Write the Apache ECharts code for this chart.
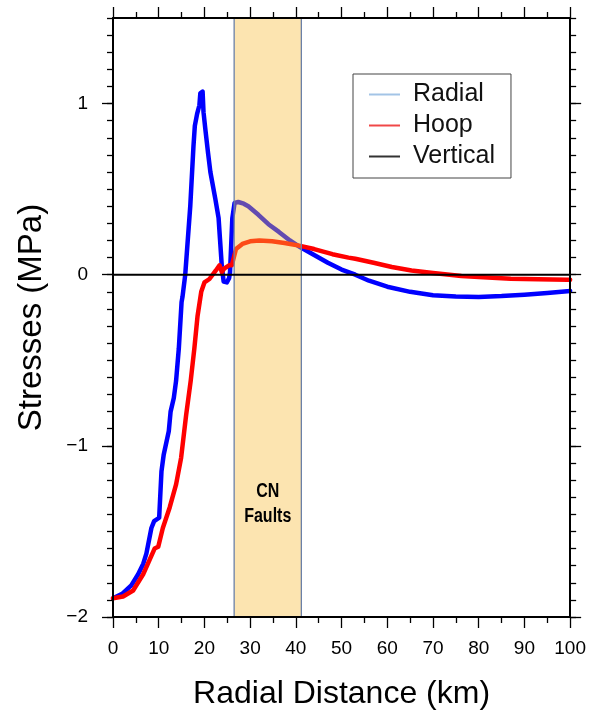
<!DOCTYPE html>
<html>
<head>
<meta charset="utf-8">
<script src="https://cdn.jsdelivr.net/npm/echarts@6/dist/echarts.min.js"></script>
<style>
html,body{margin:0;padding:0;background:#fff;}
#chart{width:589px;height:715px;}
</style>
</head>
<body>
<div id="chart"></div>
<script>
// ---- data ----
const radialX = [0,2,4,5.5,6.6,7.3,8.4,9.0,10.1,10.6,11.1,12.2,12.6,13.3,13.8,14.4,15.0,15.2,15.8,16.9,17.6,17.9,18.4,18.9,19.1,19.6,19.8,20.2,20.8,21.3,22.4,23.1,23.4,23.8,24.2,24.9,25.4,25.6,26.1,26.6,27.4,28.6,29.6,31.8,34,36.3,38.7,41.0,44,47,50,53,56,60,65,70,75,80,85,90,95,100];
const radialY = [-1.89,-1.865,-1.815,-1.75,-1.69,-1.63,-1.48,-1.44,-1.42,-1.15,-1.05,-0.915,-0.80,-0.72,-0.62,-0.43,-0.16,-0.13,0,0.40,0.75,0.87,0.94,0.99,1.06,1.07,0.95,0.85,0.71,0.60,0.44,0.33,0.21,0.05,-0.04,-0.045,-0.02,0.015,0.33,0.42,0.425,0.415,0.40,0.35,0.295,0.25,0.20,0.16,0.115,0.07,0.03,0,-0.035,-0.07,-0.10,-0.12,-0.128,-0.13,-0.125,-0.117,-0.107,-0.095];
const hoopX = [0,2.2,4.4,6.6,9.1,9.9,10.9,12.4,13.8,14.9,16.0,17.0,17.8,18.5,19.3,20.0,21.1,22.5,23.3,23.8,24.3,25.4,26.0,26.9,28.3,30,32.0,34.8,37.5,40.7,44,48,51.5,53,57,61,65.3,70,76.2,81,87,93,99.4,100];
const hoopY = [-1.89,-1.88,-1.845,-1.75,-1.60,-1.59,-1.48,-1.36,-1.225,-1.07,-0.82,-0.62,-0.43,-0.24,-0.10,-0.045,-0.025,0.025,0.055,0.015,0.035,0.055,0.055,0.15,0.18,0.195,0.20,0.195,0.185,0.17,0.15,0.12,0.10,0.093,0.07,0.045,0.025,0.01,-0.008,-0.015,-0.023,-0.027,-0.03,-0.03];
const verticalX = [0,100];
const verticalY = [0,0];
const faultZone = [26.5, 41.2];
const faultLabel = 'CN\nFaults';
const seriesNames = ['Radial','Hoop','Vertical'];
const yMajorTicks = [-2,-1,0,1];
const xTickStep = 10;
const yMinorStep = 0.1;

const zip = (xs, ys) => xs.map((x, i) => [x, ys[i]]);
const FONT = '"Liberation Sans", Arial, Helvetica, sans-serif';
const fmtY = v => (v < 0 ? '\u2212' + Math.abs(v) : String(v));

const chart = echarts.init(document.getElementById('chart'), null, {renderer: 'canvas'});

const lineBlack = {color: '#000', width: 2};
const tickStyle = {color: '#000', width: 1.3};

function xAxisDef(pos, withLabel) {
  return {
    type: 'value', min: 0, max: 100, interval: xTickStep, position: pos, z: 6,
    axisLine: {show: true, onZero: false, lineStyle: lineBlack},
    axisTick: {show: true, inside: false, length: 11, lineStyle: tickStyle},
    minorTick: {show: true, splitNumber: 2, length: 6, lineStyle: tickStyle},
    axisLabel: {show: withLabel, fontSize: 19, color: '#000', margin: 22, fontFamily: FONT},
    splitLine: {show: false}, minorSplitLine: {show: false},
    name: withLabel ? 'Radial Distance (km)' : '',
    nameLocation: 'middle', nameGap: 61,
    nameTextStyle: {fontSize: 32, color: '#000', fontFamily: FONT}
  };
}
function yMajorDef(pos, withLabel) {
  return {
    type: 'value', min: -2, max: 1.5, interval: 1, position: pos, z: 6,
    axisLine: {show: true, onZero: false, lineStyle: lineBlack},
    axisTick: {show: true, inside: false, length: 11, lineStyle: tickStyle, customValues: yMajorTicks},
    axisLabel: {show: withLabel, fontSize: 19, color: '#000', margin: 25, fontFamily: FONT,
      customValues: yMajorTicks,
      formatter: v => (Number.isInteger(v) ? fmtY(v) : '')},
    splitLine: {show: false},
    name: withLabel ? 'Stresses (MPa)' : '',
    nameLocation: 'middle', nameGap: 65, nameRotate: 90,
    nameTextStyle: {fontSize: 33, color: '#000', fontFamily: FONT}
  };
}
function yMinorDef(pos) {
  return {
    type: 'value', min: -2, max: 1.5, interval: yMinorStep, position: pos, z: 6,
    axisLine: {show: false, onZero: false},
    axisTick: {show: true, inside: false, length: 6, lineStyle: tickStyle},
    axisLabel: {show: false},
    splitLine: {show: false}
  };
}

const option = {
  backgroundColor: '#fff',
  animation: false,
  grid: {left: 113, right: 16, top: 18, bottom: 95, containLabel: false},
  xAxis: [xAxisDef('bottom', true), xAxisDef('top', false)],
  yAxis: [yMajorDef('left', true), yMinorDef('left'), yMajorDef('right', false), yMinorDef('right')],
  legend: {
    orient: 'vertical', left: 353, top: 74,
    padding: [8, 16, 9, 16], itemGap: 6, itemWidth: 31, itemHeight: 2,
    borderColor: '#444', borderWidth: 1, backgroundColor: '#fff',
    textStyle: {fontSize: 25, color: '#111', fontFamily: FONT, padding: [0, 0, 0, 8]},
    data: [
      {name: seriesNames[0], icon: 'rect', itemStyle: {color: '#a3c4e6'}},
      {name: seriesNames[1], icon: 'rect', itemStyle: {color: '#f04848'}},
      {name: seriesNames[2], icon: 'rect', itemStyle: {color: '#333'}}
    ]
  },
  series: [
    {
      name: seriesNames[0], type: 'line', data: zip(radialX, radialY), z: 2,
      symbol: 'none', showSymbol: false, color: '#0000ff',
      lineStyle: {color: '#0000ff', width: 4.5, cap: 'round', join: 'round'}
    },
    {
      name: seriesNames[1], type: 'line', data: zip(hoopX, hoopY), z: 2,
      symbol: 'none', showSymbol: false, color: '#ff0000',
      lineStyle: {color: '#ff0000', width: 4.5, cap: 'round', join: 'round'}
    },
    {
      name: 'faults', type: 'custom', z: 3, silent: true,
      data: [[faultZone[0], faultZone[1]]],
      encode: {x: [0, 1]},
      renderItem: function (params, api) {
        const cs = params.coordSys;
        const p0 = api.coord([api.value(0), 0]);
        const p1 = api.coord([api.value(1), 0]);
        return {
          type: 'group',
          children: [
            {type: 'rect', shape: {x: p0[0], y: cs.y, width: p1[0] - p0[0], height: cs.height},
             style: {fill: 'rgba(247,187,58,0.4)', stroke: '#6b80a8', lineWidth: 1.3}},
            {type: 'text', x: (p0[0] + p1[0]) / 2, y: cs.y + cs.height * 0.812,
             scaleX: 0.8,
             style: {text: faultLabel, fill: '#000', font: 'bold 20px ' + FONT,
                     align: 'center', verticalAlign: 'middle', lineHeight: 25}}
          ]
        };
      }
    },
    {
      name: seriesNames[2], type: 'line', data: zip(verticalX, verticalY), z: 4,
      symbol: 'none', showSymbol: false, color: '#000',
      lineStyle: {color: '#000', width: 2}
    }
  ]
};
chart.setOption(option);
</script>
</body>
</html>
